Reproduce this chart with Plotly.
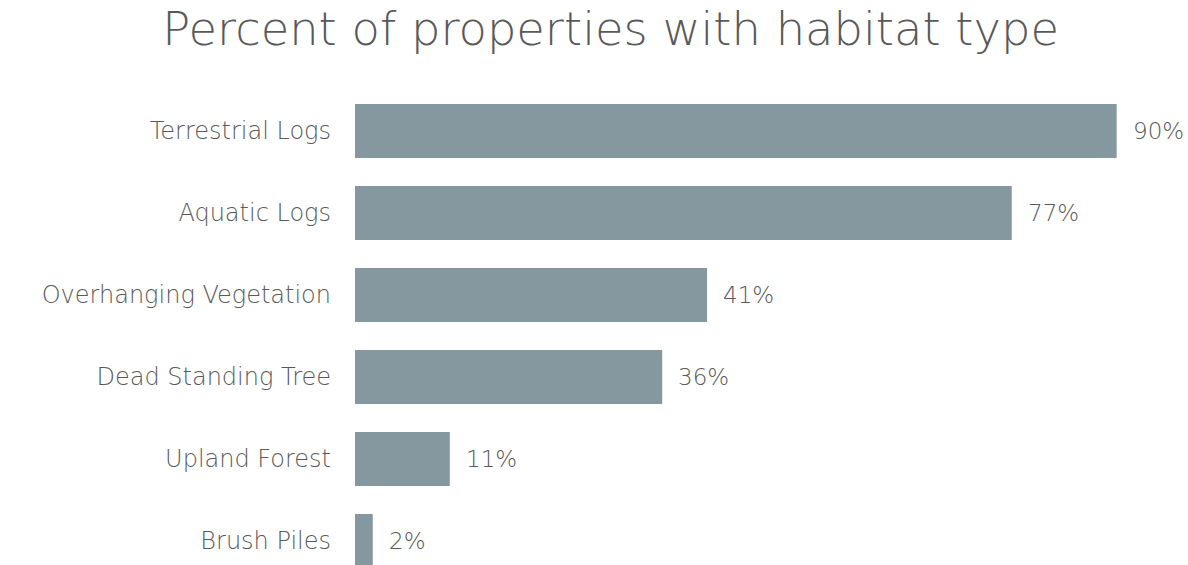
import plotly.graph_objects as go

categories = ["Terrestrial Logs", "Aquatic Logs", "Overhanging Vegetation",
              "Dead Standing Tree", "Upland Forest", "Brush Piles"]
values = [90.0, 77.6, 41.6, 36.3, 11.2, 2.1]
labels = ["90%", "77%", "41%", "36%", "11%", "2%"]

bar_color = "#8598A0"
text_color = "#595959"
font_family = "DejaVu Sans, Noto Sans, sans-serif"

fig = go.Figure()
fig.add_trace(go.Bar(
    x=values, y=categories, orientation="h",
    marker=dict(color=bar_color, line=dict(width=0)),
    width=0.66,
    cliponaxis=True,
    hoverinfo="skip",
))

for v, c, t in zip(values, categories, labels):
    fig.add_annotation(x=v, y=c, text=t, showarrow=False, xanchor="left",
                       xshift=14, font=dict(size=23, color=text_color, family=font_family, weight=300))

fig.update_layout(
    width=1188, height=565,
    paper_bgcolor="white", plot_bgcolor="white",
    margin=dict(l=355, r=29, t=90, b=0),
    title=dict(text="Percent of properties with habitat type", x=0.514, xanchor="center",
               y=0.978, yanchor="top", xref="container",
               font=dict(size=46.4, color=text_color, family=font_family, weight=300)),
    showlegend=False,
)
fig.update_xaxes(range=[0, 95], visible=False, showgrid=False, zeroline=False)
fig.update_yaxes(categoryorder="array", categoryarray=categories,
                 range=[5.5 - 17 / 82, -0.5], showgrid=False, zeroline=False,
                 showline=False, ticks="", ticklabelstandoff=23,
                 tickfont=dict(size=24, color=text_color, family=font_family, weight=300))

fig.write_html("out.html")
